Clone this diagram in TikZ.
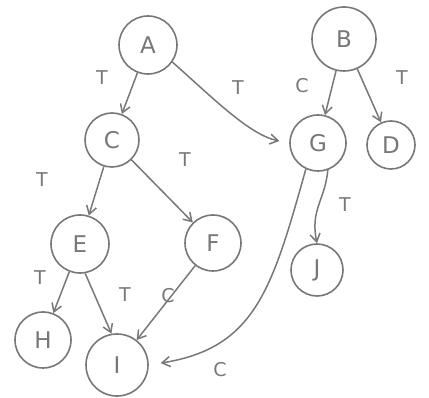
\documentclass[tikz,border=0pt]{standalone}
\usepackage{fontspec}
\setsansfont{DejaVu Sans}
\usetikzlibrary{arrows.meta}
\definecolor{pencil}{RGB}{120,120,120}
\begin{document}
\begin{tikzpicture}[x=1pt,y=-1pt,
  vtx/.style={circle,draw=pencil,line width=1.6pt,inner sep=0pt,text=pencil,font=\sffamily\fontsize{23}{23}\selectfont},
  edge/.style={draw=pencil,line width=1.5pt,-{Straight Barb[length=8pt,width=10pt]}},
  lbl/.style={text=pencil,font=\sffamily\fontsize{19}{19}\selectfont}]
\useasboundingbox (0,0) rectangle (429,398);
\fill[white] (0,0) rectangle (429,398);
\node[vtx,minimum size=58pt] (A) at (148,45) {A};
\node[vtx,minimum size=64pt] (B) at (344,39) {B};
\node[vtx,minimum size=54pt] (C) at (112,140) {C};
\node[vtx,minimum size=56pt] (G) at (318,143) {G};
\node[vtx,minimum size=48pt] (D) at (391,145) {D};
\node[vtx,minimum size=58pt] (E) at (80,244) {E};
\node[vtx,minimum size=56pt] (F) at (213,243) {F};
\node[vtx,minimum size=52pt] (J) at (317,270) {J};
\node[vtx,minimum size=56pt] (H) at (43,340) {H};
\node[vtx,minimum size=62pt] (I) at (117,365) {I};
\draw[edge] (A) -- (C);
\draw[edge,shorten >=10pt] (A.-35) .. controls (215,100) and (250,135) .. (G.west);
\draw[edge] (B) -- (G);
\draw[edge] (B) -- (D);
\draw[edge] (C) -- (E);
\draw[edge] (C) -- (F);
\draw[edge] (E) -- (H);
\draw[edge] (E.-80) -- (I.100);
\draw[edge] (F) -- (I);
\draw[edge] (G.-70) .. controls (325,200) and (310,210) .. (J.north);
\draw[edge,shorten >=12pt] (G.-115) .. controls (272,290) and (255,348) .. (I.east);
\node[lbl] (t1) at (102,78) {T};
\node[lbl] (t2) at (238,88) {T};
\node[lbl] (c1) at (302,86) {C};
\node[lbl] (t3) at (402,78) {T};
\node[lbl] (t4) at (42,180) {T};
\node[lbl] (t5) at (185,160) {T};
\node[lbl] (t6) at (40,278) {T};
\node[lbl] (t7) at (125,295) {T};
\node[lbl] (c2) at (168,296) {C};
\node[lbl] (t8) at (345,205) {T};
\node[lbl] (c3) at (220,370) {C};
\end{tikzpicture}
\end{document}
